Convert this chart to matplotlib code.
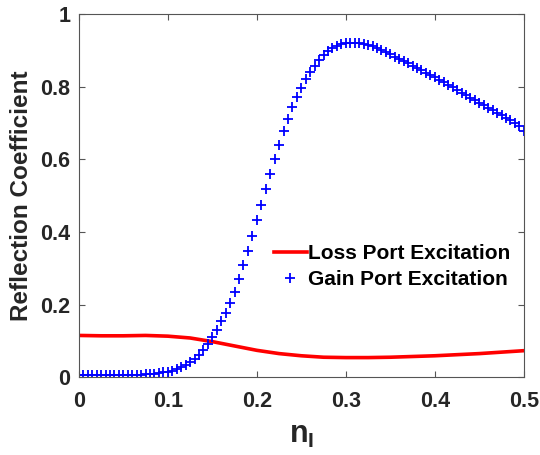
import numpy as np
import matplotlib
matplotlib.use("Agg")
from matplotlib import pyplot as plt

# n_I values, step 0.005
n_gain = np.round(np.arange(0, 0.5001, 0.005), 3)
gain = [0.005, 0.005, 0.005, 0.005, 0.005, 0.005, 0.005, 0.005, 0.005, 0.005,
        0.006, 0.006, 0.006, 0.007, 0.007, 0.008, 0.009, 0.010, 0.011, 0.013,
        0.015, 0.018, 0.022, 0.027, 0.033, 0.041, 0.050, 0.061, 0.075, 0.091,
        0.110, 0.130, 0.155, 0.178, 0.205, 0.234, 0.271, 0.308, 0.347, 0.388,
        0.432, 0.475, 0.517, 0.560, 0.600, 0.639, 0.677, 0.711, 0.743, 0.772,
        0.797, 0.821, 0.841, 0.858, 0.873, 0.887, 0.898, 0.907, 0.913, 0.917,
        0.920, 0.921, 0.921, 0.920, 0.918, 0.915, 0.911, 0.906, 0.900, 0.895,
        0.889, 0.883, 0.877, 0.870, 0.864, 0.857, 0.851, 0.845, 0.839, 0.832,
        0.826, 0.819, 0.812, 0.805, 0.798, 0.791, 0.784, 0.777, 0.770, 0.763,
        0.756, 0.749, 0.742, 0.735, 0.728, 0.721, 0.714, 0.707, 0.700, 0.692,
        0.678]

n_loss = [0, 0.025, 0.05, 0.075, 0.1, 0.125, 0.15, 0.175, 0.2, 0.225, 0.25,
          0.275, 0.3, 0.325, 0.35, 0.375, 0.4, 0.425, 0.45, 0.475, 0.5]
loss = [0.115, 0.114, 0.114, 0.115, 0.113, 0.108, 0.098, 0.086, 0.074, 0.065, 0.059,
        0.055, 0.054, 0.054, 0.055, 0.057, 0.059, 0.062, 0.065, 0.069, 0.073]

plt.rcParams["font.family"] = ["Liberation Sans", "DejaVu Sans"]
plt.rcParams["font.weight"] = "bold"

fig = plt.figure(figsize=(5.4, 4.55), dpi=100)
ax = fig.add_axes([0.146, 0.171, 0.824, 0.798])

ax.plot(n_loss, loss, color="#ff0000", lw=2.6, label="Loss Port Excitation")
ax.plot(n_gain, gain, "+", color="#0000ff", ms=7, mew=1.3, label="Gain Port Excitation")

ax.set_xlim(0, 0.5)
ax.set_ylim(0, 1)
ax.set_xticks([0, 0.1, 0.2, 0.3, 0.4, 0.5])
ax.set_xticklabels(["0", "0.1", "0.2", "0.3", "0.4", "0.5"])
ax.set_yticks([0, 0.2, 0.4, 0.6, 0.8, 1])
ax.set_yticklabels(["0", "0.2", "0.4", "0.6", "0.8", "1"])
ax.tick_params(direction="in", top=True, right=True, length=4, width=0.8,
               colors="#555555", labelcolor="#262626", labelsize=15.5)
ax.tick_params(axis="x", pad=10)
ax.tick_params(axis="y", pad=6)
for s in ax.spines.values():
    s.set_color("#555555")
    s.set_linewidth(0.8)

ax.set_xlabel(r"n$_\mathregular{I}$", fontsize=22, fontweight="bold", color="#262626", labelpad=6)
ax.set_ylabel("Reflection Coefficient", fontsize=17.5, fontweight="bold", color="#262626", labelpad=5)

ax.legend(loc="upper left", bbox_to_anchor=(0.438, 0.366), frameon=False,
          prop={"size": 15, "weight": "bold"}, handlelength=1.6,
          handletextpad=0.05, labelspacing=0.32, borderaxespad=0, borderpad=0)

fig.savefig("out.png", dpi=100)
